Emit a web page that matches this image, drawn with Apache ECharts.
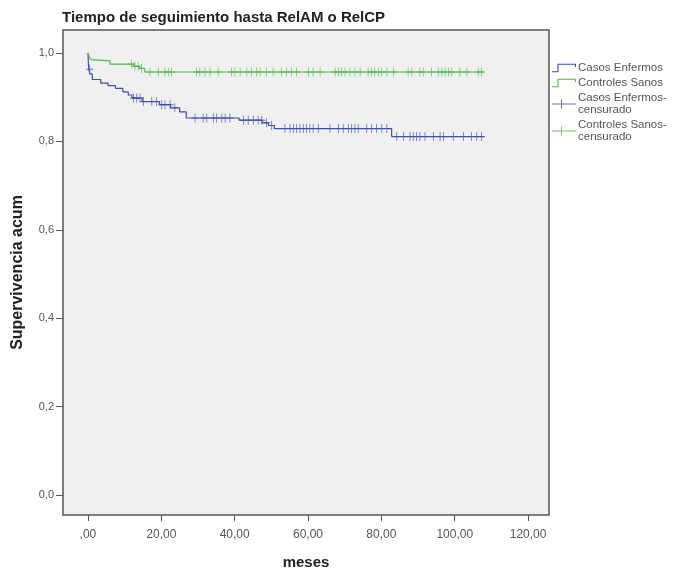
<!DOCTYPE html>
<html>
<head>
<meta charset="utf-8">
<script src="https://cdn.jsdelivr.net/npm/echarts@6/dist/echarts.min.js"></script>
<style>
html,body{margin:0;padding:0;background:#fff;}
#chart{width:680px;height:573px;}
</style>
</head>
<body>
<div id="chart"></div>
<script>
// ---- Data ----
const titleText = 'Tiempo de seguimiento hasta RelAM o RelCP';
const xName = 'meses';
const yName = 'Supervivencia acum';
const seriesNames = ['Casos Enfermos', 'Controles Sanos', 'Casos Enfermos-censurado', 'Controles Sanos-censurado'];
const xTicks = [0, 20, 40, 60, 80, 100, 120];
const yTicks = [0, 0.2, 0.4, 0.6, 0.8, 1.0];

// Kaplan-Meier step points [meses, supervivencia]
const casosSteps = [
  [0,1.0],[0.2,0.963],[0.6,0.952],[1.2,0.94],[3.5,0.932],[5.5,0.926],[7.5,0.92],
  [9.5,0.912],[11,0.905],[12,0.898],[14.8,0.89],[19.5,0.883],[22.5,0.876],[25,0.867],
  [26.8,0.853],[41.2,0.848],[47.5,0.842],[49.2,0.836],[50.8,0.829],[82.8,0.811],[108,0.811]
];
const controlesSteps = [
  [0,1.0],[0.4,0.99],[0.9,0.985],[1.4,0.982],[6,0.975],[12.5,0.97],[14,0.965],
  [15.5,0.957],[108,0.957]
];
// Censored observations [meses, supervivencia]
const casosCens = [
  [0.5,0.963],[12.4,0.898],[13.3,0.898],[14.2,0.898],[15.1,0.89],[17.4,0.89],[18.7,0.89],
  [20.1,0.883],[21,0.883],[22.4,0.883],[23.7,0.876],
  [29.2,0.853],[31.4,0.853],[32.4,0.853],[34.2,0.853],[35.1,0.853],[36.5,0.853],[37.4,0.853],[38.7,0.853],
  [42.4,0.848],[43.7,0.848],[45.1,0.848],[46.4,0.848],[47.4,0.848],[48.7,0.842],[50.1,0.836],
  [53.7,0.829],[55.1,0.829],[56,0.829],[56.9,0.829],[57.8,0.829],[58.7,0.829],[59.6,0.829],
  [60.5,0.829],[61.4,0.829],[62.8,0.829],[66,0.829],[68.3,0.829],[69.6,0.829],[71,0.829],
  [71.9,0.829],[72.8,0.829],[73.7,0.829],[76,0.829],[77.3,0.829],[78.7,0.829],[80.1,0.829],[81.5,0.829],
  [84.2,0.811],[86,0.811],[87.8,0.811],[88.7,0.811],[89.6,0.811],[90.5,0.811],[91.9,0.811],
  [94.2,0.811],[96,0.811],[96.9,0.811],[99.6,0.811],[102.4,0.811],[104.6,0.811],[106,0.811],[107.3,0.811]
];
const controlesCens = [
  [11.9,0.975],[12.8,0.97],[13.7,0.97],[14.6,0.965],[16.9,0.957],[19.2,0.957],[21,0.957],
  [21.9,0.957],[22.8,0.957],[29.6,0.957],[30.5,0.957],[31.9,0.957],[33.3,0.957],[35.5,0.957],
  [39.2,0.957],[40.1,0.957],[41.5,0.957],[43.3,0.957],[44.6,0.957],[46,0.957],[46.9,0.957],
  [48.7,0.957],[50.5,0.957],[52.8,0.957],[54.2,0.957],[55.5,0.957],[56.9,0.957],[60.1,0.957],
  [61.4,0.957],[63.3,0.957],[67.4,0.957],[68.3,0.957],[69.2,0.957],[70.1,0.957],[71.4,0.957],
  [72.8,0.957],[74.2,0.957],[76.4,0.957],[77.3,0.957],[78.2,0.957],[79.2,0.957],[80.1,0.957],
  [81.5,0.957],[83.3,0.957],[87.3,0.957],[88.3,0.957],[90.5,0.957],[91.4,0.957],[93.7,0.957],
  [95.5,0.957],[96.5,0.957],[97.4,0.957],[98.3,0.957],[99.2,0.957],[101.4,0.957],[103.3,0.957],
  [106.4,0.957],[107.3,0.957]
];

// ---- Styles ----
const BLUE = '#3d4fa6';
const GREEN = '#4cb94c';
const AXIS = '#555555';
const FONT = 'Liberation Sans, Arial, sans-serif';
const plusSymbol = 'path://M4,0L5,0L5,9L4,9Z M0,4L9,4L9,5L0,5Z';
const stepIcon = 'path://M0,8L5,8L5,1L22,1L22,4L21,4L21,2L6,2L6,9L0,9Z';
const plusIcon = 'path://M0,4L24,4L24,5L0,5Z M9,0L10,0L10,9L9,9Z';

const chart = echarts.init(document.getElementById('chart'), null, {renderer: 'canvas'});
chart.setOption({
  animation: false,
  backgroundColor: '#ffffff',
  title: {
    text: titleText, left: 62, top: 10, padding: 0,
    textStyle: {fontFamily: FONT, fontSize: 15, fontWeight: 'bold', color: '#222'}
  },
  legend: {
    orient: 'vertical', left: 552, top: 62, padding: 0, itemWidth: 24, itemHeight: 10, itemGap: 3,
    textStyle: {fontFamily: FONT, fontSize: 11.5, color: '#555', lineHeight: 12, padding: [0, 0, 0, -3]},
    formatter: n => n.replace('-', '-\n'),
    itemStyle: {borderWidth: 0},
    data: [
      {name: seriesNames[0], icon: stepIcon},
      {name: seriesNames[1], icon: stepIcon},
      {name: seriesNames[2], icon: plusIcon},
      {name: seriesNames[3], icon: plusIcon}
    ]
  },
  grid: {
    left: 63, top: 30, width: 486, height: 485, show: true,
    outerBoundsMode: 'none', containLabel: false,
    backgroundColor: '#f0f0f0', borderColor: AXIS, borderWidth: 1.5
  },
  xAxis: {
    type: 'value', min: -6.8, max: 125.7,
    name: xName, nameLocation: 'middle', nameGap: 40,
    nameTextStyle: {fontFamily: FONT, fontSize: 15, fontWeight: 'bold', color: '#222'},
    axisLine: {show: false, onZero: false},
    axisTick: {show: true, length: 6, lineStyle: {color: AXIS}, customValues: xTicks},
    axisLabel: {
      customValues: xTicks, margin: 14, fontSize: 12, color: '#555', fontFamily: FONT,
      formatter: v => v === 0 ? ',00' : v.toFixed(2).replace('.', ',')
    },
    splitLine: {show: false}
  },
  yAxis: {
    type: 'value', min: -0.045, max: 1.052,
    name: yName, nameLocation: 'middle', nameGap: 37, nameRotate: 90,
    nameTextStyle: {fontFamily: FONT, fontSize: 16, fontWeight: 'bold', color: '#222'},
    axisLine: {show: false, onZero: false},
    axisTick: {show: true, length: 7, lineStyle: {color: AXIS}, customValues: yTicks},
    axisLabel: {
      customValues: yTicks, margin: 9, fontSize: 11, color: '#555', fontFamily: FONT,
      formatter: v => v.toFixed(1).replace('.', ',')
    },
    splitLine: {show: false}
  },
  series: [
    {name: seriesNames[0], type: 'line', step: 'end', data: casosSteps, showSymbol: false,
     color: BLUE, lineStyle: {width: 1.2, color: BLUE}},
    {name: seriesNames[1], type: 'line', step: 'end', data: controlesSteps, showSymbol: false,
     color: GREEN, lineStyle: {width: 1.2, color: GREEN}},
    {name: seriesNames[2], type: 'scatter', data: casosCens, symbol: plusSymbol, symbolSize: [7, 9],
     color: BLUE, itemStyle: {color: BLUE}},
    {name: seriesNames[3], type: 'scatter', data: controlesCens, symbol: plusSymbol, symbolSize: [7, 9],
     color: GREEN, itemStyle: {color: GREEN}}
  ]
});
</script>
</body>
</html>
